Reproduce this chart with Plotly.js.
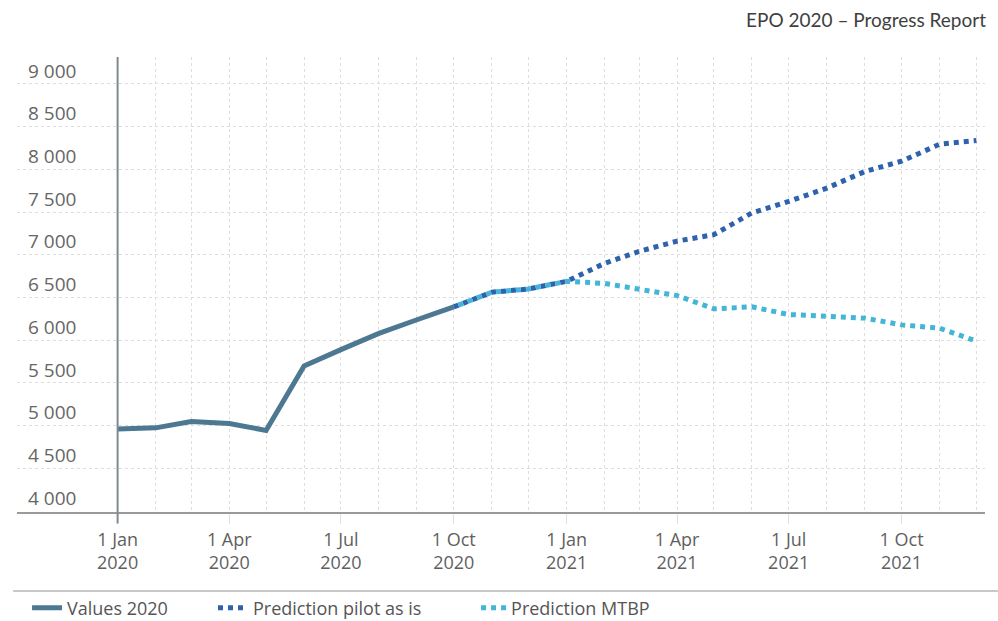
<!DOCTYPE html>
<html>
<head>
<meta charset="utf-8">
<script src="https://cdn.plot.ly/plotly-3.0.1.min.js"></script>
<style>html,body{margin:0;padding:0;background:#fff;}#chart{width:998px;height:621px;}</style>
</head>
<body>
<div id="chart"></div>
<script>
// ---- data ----
const months2020 = ['2020-01-01','2020-02-01','2020-03-01','2020-04-01','2020-05-01','2020-06-01','2020-07-01','2020-08-01','2020-09-01','2020-10-01'];
const values2020 = [4960, 4975, 5050, 5025, 4945, 5700, 5890, 6080, 6240, 6390];

const predMonths = ['2020-10-01','2020-11-01','2020-12-01','2021-01-01','2021-02-01','2021-03-01','2021-04-01','2021-05-01','2021-06-01','2021-07-01','2021-08-01','2021-09-01','2021-10-01','2021-11-01','2021-12-01'];
const pilotAsIs = [6390, 6562, 6600, 6690, 6900, 7040, 7160, 7236, 7490, 7625, 7780, 7975, 8096, 8294, 8337];
const mtbp      = [6390, 6562, 6600, 6690, 6665, 6593, 6523, 6368, 6391, 6301, 6278, 6259, 6180, 6141, 5990];

const xTickVals = ['2020-01-01','2020-04-01','2020-07-01','2020-10-01','2021-01-01','2021-04-01','2021-07-01','2021-10-01'];
const xTickText = ['1 Jan<br>2020','1 Apr<br>2020','1 Jul<br>2020','1 Oct<br>2020','1 Jan<br>2021','1 Apr<br>2021','1 Jul<br>2021','1 Oct<br>2021'];
const yTickVals = [4000, 4500, 5000, 5500, 6000, 6500, 7000, 7500, 8000, 8500, 9000];
const yTickText = ['4 000','4 500','5 000','5 500','6 000','6 500','7 000','7 500','8 000','8 500','9 000'];
const gridMonths = months2020.concat(predMonths.slice(1));

const font = 'Open Sans, Noto Sans, sans-serif';
const legFont = {family: font, size: 18, color: '#555'};

const traces = [
  {x: months2020, y: values2020, name: 'Values 2020', type: 'scatter', mode: 'lines',
   line: {color: '#4d7892', width: 5}, legend: 'legend'},
  {x: predMonths, y: pilotAsIs, name: 'Prediction pilot as is', type: 'scatter', mode: 'lines',
   line: {color: '#2f62ad', width: 5, dash: '5px,5px'}, legend: 'legend2'},
  {x: predMonths, y: mtbp, name: 'Prediction MTBP', type: 'scatter', mode: 'lines',
   line: {color: '#43b5d6', width: 5, dash: '0px,5px,5px,0px'}, legend: 'legend3'}
];

const layout = {
  width: 998, height: 621,
  margin: {l: 17, r: 13, t: 57, b: 109, autoexpand: false},
  paper_bgcolor: '#fff', plot_bgcolor: '#fff',
  font: {family: font, color: '#5f5f5f', size: 16},
  showlegend: true,
  legend:  {orientation: 'h', xref: 'container', yref: 'container', x: 0.0271, xanchor: 'left', y: 0.021, yanchor: 'middle', font: legFont, bgcolor: 'rgba(0,0,0,0)'},
  legend2: {orientation: 'h', xref: 'container', yref: 'container', x: 0.2134, xanchor: 'left', y: 0.021, yanchor: 'middle', font: legFont, bgcolor: 'rgba(0,0,0,0)'},
  legend3: {orientation: 'h', xref: 'container', yref: 'container', x: 0.4720, xanchor: 'left', y: 0.021, yanchor: 'middle', font: legFont, bgcolor: 'rgba(0,0,0,0)'},
  xaxis: {
    type: 'date',
    range: ['2019-10-11', '2021-12-08'],
    tickmode: 'array', tickvals: xTickVals, ticktext: xTickText,
    showgrid: true, gridcolor: '#dedede', griddash: 'dot', gridwidth: 1,
    ticks: 'outside', ticklen: 10, tickcolor: '#e0e0e0', tickwidth: 1,
    minor: {tickmode: 'array', tickvals: gridMonths, showgrid: true, gridcolor: '#dedede', griddash: 'dot', gridwidth: 1, ticks: ''},
    showline: true, linecolor: '#9a9a9a', linewidth: 2,
    zeroline: false,
    tickfont: {family: font, size: 18, color: '#5f5f5f'},
    fixedrange: true
  },
  yaxis: {
    range: [3990, 9315],
    tickmode: 'array', tickvals: yTickVals, ticktext: yTickText,
    showgrid: true, gridcolor: '#dedede', griddash: 'dot', gridwidth: 1,
    ticks: '', showline: false, zeroline: false,
    ticklabelposition: 'inside', ticklabelstandoff: 8, ticklabelshift: -13,
    tickfont: {family: font, size: 19, color: '#666'},
    fixedrange: true
  },
  shapes: [
    {type: 'line', xref: 'x', yref: 'paper', x0: '2020-01-01', x1: '2020-01-01', y0: -0.025, y1: 1,
     line: {color: '#7d8a92', width: 2}},
    {type: 'line', xref: 'paper', yref: 'paper', x0: -0.004, x1: 1.014, y0: -0.1736, y1: -0.1736,
     line: {color: '#c8c8c8', width: 2}}
  ],
  annotations: [
    {text: 'EPO 2020 – Progress Report', xref: 'paper', yref: 'paper', x: 1.0, y: 1, xanchor: 'right', yanchor: 'bottom',
     xshift: 3, yshift: 24, showarrow: false, font: {family: 'Lato, Carlito, sans-serif', size: 19, color: '#3f3f3f'}}
  ]
};

Plotly.newPlot('chart', traces, layout, {displayModeBar: false, staticPlot: true});
</script>
</body>
</html>
